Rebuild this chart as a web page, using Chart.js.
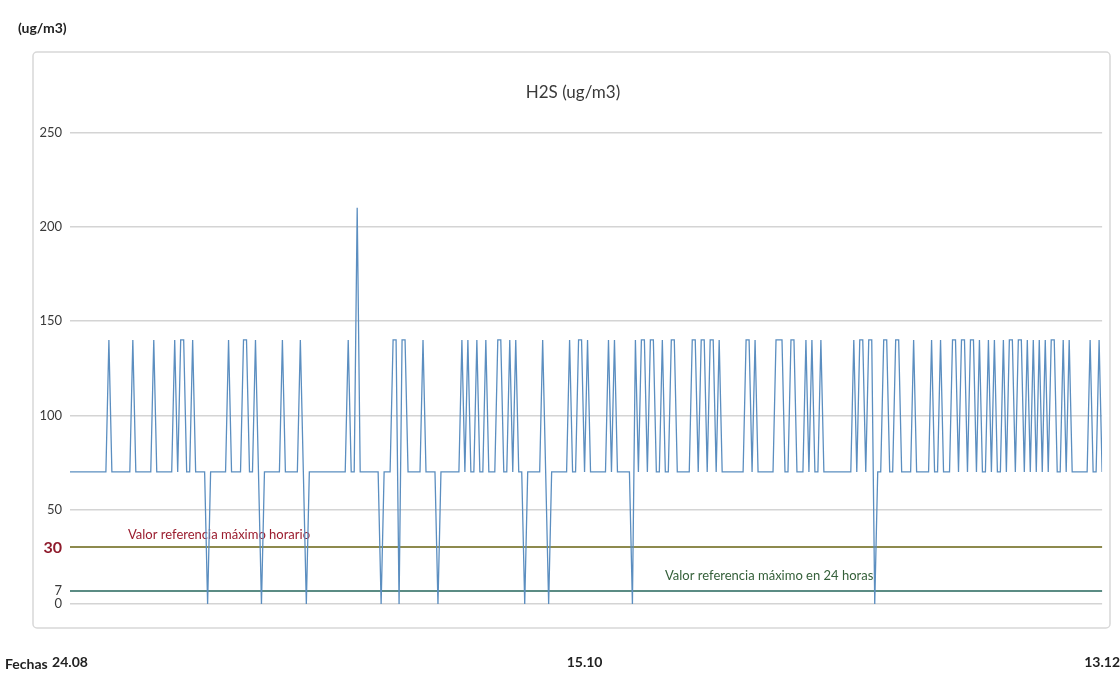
<!DOCTYPE html>
<html>
<head>
<meta charset="utf-8">
<title>H2S (ug/m3)</title>
<script src="https://cdn.jsdelivr.net/npm/chart.js@4.4.1/dist/chart.umd.min.js"></script>
<style>
  html, body { margin: 0; padding: 0; background: #fff; }
  #wrap { position: relative; width: 1120px; height: 675px; }
</style>
</head>
<body>
<div id="wrap"><canvas id="h2sChart"></canvas></div>
<script>
const FONT = "Lato, 'DejaVu Sans Condensed', sans-serif";

// H2S (ug/m3), lecturas 24.08 -> 13.12
const h2s = [
  70, 70, 70, 70, 70, 70, 70, 70, 70, 70, 70, 70, 70, 140, 70, 70, 70, 70, 70, 70,
  70, 140, 70, 70, 70, 70, 70, 70, 140, 70, 70, 70, 70, 70, 70, 140, 70, 140, 140, 70,
  70, 140, 70, 70, 70, 70, 0, 70, 70, 70, 70, 70, 70, 140, 70, 70, 70, 70, 140, 140,
  70, 70, 140, 70, 0, 70, 70, 70, 70, 70, 70, 140, 70, 70, 70, 70, 70, 140, 70, 0,
  70, 70, 70, 70, 70, 70, 70, 70, 70, 70, 70, 70, 70, 140, 70, 70, 210, 70, 70, 70,
  70, 70, 70, 70, 0, 70, 70, 70, 140, 140, 0, 140, 140, 70, 70, 70, 70, 70, 140, 70,
  70, 70, 70, 0, 70, 70, 70, 70, 70, 70, 70, 140, 70, 140, 70, 70, 140, 70, 70, 140,
  70, 70, 70, 140, 140, 70, 70, 140, 70, 140, 70, 70, 0, 70, 70, 70, 70, 70, 140, 70,
  0, 70, 70, 70, 70, 70, 70, 140, 70, 70, 140, 140, 70, 140, 70, 70, 70, 70, 70, 70,
  140, 70, 140, 70, 70, 70, 70, 70, 0, 140, 70, 140, 140, 70, 140, 140, 70, 70, 140, 70,
  70, 140, 140, 70, 70, 70, 70, 70, 140, 140, 70, 140, 140, 70, 140, 140, 70, 140, 70, 70,
  70, 70, 70, 70, 70, 70, 140, 140, 70, 140, 70, 70, 70, 70, 70, 70, 140, 140, 140, 70,
  70, 140, 140, 70, 70, 70, 140, 70, 140, 70, 70, 140, 70, 70, 70, 70, 70, 70, 70, 70,
  70, 70, 140, 70, 140, 140, 70, 140, 140, 0, 70, 70, 140, 140, 70, 70, 140, 140, 70, 70,
  70, 70, 140, 70, 70, 70, 70, 70, 140, 70, 70, 140, 70, 70, 70, 140, 140, 70, 140, 140,
  70, 140, 140, 70, 140, 70, 70, 140, 70, 140, 70, 70, 140, 70, 140, 140, 70, 140, 140, 70,
  140, 70, 140, 70, 140, 70, 140, 70, 140, 140, 70, 70, 140, 70, 140, 70, 70, 70, 70, 70,
  70, 140, 70, 70, 140, 70
];

const yTicks = [0, 7, 30, 50, 100, 150, 200, 250];
const dateLabels = ['24.08', '15.10', '13.12'];
const dateIndex = [0, 172, 345];

const refHourly = 30;
const ref24h = 7;
const refHourlyText = 'Valor referencia máximo horario';
const ref24hText = 'Valor referencia máximo en 24 horas';

// marco, textos sueltos y etiquetas de referencia
const frame = {
  id: 'frame',
  beforeDraw(chart) {
    const { ctx, width, height } = chart;
    ctx.save();
    ctx.fillStyle = '#fff';
    ctx.fillRect(0, 0, width, height);
    ctx.strokeStyle = '#d8d8d8';
    ctx.lineWidth = 1.5;
    ctx.beginPath();
    if (ctx.roundRect) {
      ctx.roundRect(33, 52, 1077, 576, 4);
    } else {
      ctx.rect(33, 52, 1077, 576);
    }
    ctx.stroke();
    ctx.fillStyle = '#222';
    ctx.font = 'bold 14px ' + FONT;
    ctx.textBaseline = 'middle';
    ctx.fillText('(ug/m3)', 18, 28);
    ctx.fillText('Fechas', 5, 664);
    ctx.restore();
  },
  beforeDatasetsDraw(chart) {
    const { ctx, chartArea, scales: { y } } = chart;
    ctx.save();
    ctx.font = '13px ' + FONT;
    ctx.textBaseline = 'bottom';
    ctx.fillStyle = '#9a1c2e';
    ctx.fillText(refHourlyText, chartArea.left + 58, y.getPixelForValue(refHourly) - 6);
    ctx.fillStyle = '#35603a';
    ctx.fillText(ref24hText, chartArea.left + 595, y.getPixelForValue(ref24h) - 8);
    ctx.restore();
  },
};

const tickValue = (c) => (c.tick ? c.tick.value : null);

function gridColor(c) {
  if (tickValue(c) === refHourly) return '#8d8a4e';
  if (tickValue(c) === ref24h) return '#5b8c84';
  return '#d4d4d4';
}

new Chart(document.getElementById('h2sChart'), {
  type: 'line',
  data: {
    datasets: [
      {
        data: h2s.map((v, i) => ({ x: i, y: v })),
        borderColor: '#5b8ec0',
        borderWidth: 1.3,
        pointRadius: 0,
        tension: 0,
      },
    ],
  },
  options: {
    responsive: true,
    maintainAspectRatio: false,
    animation: false,
    layout: { padding: { top: 72, right: 0, bottom: 0, left: 26 } },
    plugins: {
      legend: { display: false },
      tooltip: { enabled: false },
      title: {
        display: true,
        text: 'H2S (ug/m3)',
        color: '#3a3a3a',
        font: { family: FONT, size: 17, weight: 'normal' },
        padding: { top: 10, bottom: 30 },
      },
    },
    scales: {
      x: {
        type: 'linear',
        min: 0,
        max: h2s.length - 1,
        afterBuildTicks: (scale) => {
          scale.ticks = dateIndex.map((v) => ({ value: v }));
        },
        afterFit: (scale) => {
          scale.height = 71;
        },
        grid: {
          drawOnChartArea: false,
          drawTicks: true,
          tickLength: 50,
          color: 'rgba(0,0,0,0)',
        },
        border: { display: false },
        ticks: {
          autoSkip: false,
          maxRotation: 0,
          padding: 0,
          color: '#222',
          font: { family: FONT, size: 14, weight: 'bold' },
          callback: (v) => dateLabels[dateIndex.indexOf(v)],
        },
      },
      y: {
        min: 0,
        max: 250,
        afterBuildTicks: (scale) => {
          scale.ticks = yTicks.map((v) => ({ value: v }));
        },
        afterFit: (scale) => {
          scale.width = 44;
        },
        border: { display: false },
        grid: {
          drawTicks: false,
          color: gridColor,
          lineWidth: (c) => (tickValue(c) === refHourly || tickValue(c) === ref24h ? 2 : 1.5),
        },
        ticks: {
          padding: 8,
          color: (c) => (tickValue(c) === refHourly ? '#8e1b2c' : '#3a3a3a'),
          font: (c) =>
            tickValue(c) === refHourly
              ? { family: FONT, size: 16, weight: 'bold' }
              : { family: FONT, size: 13 },
        },
      },
    },
  },
  plugins: [frame],
});
</script>
</body>
</html>
